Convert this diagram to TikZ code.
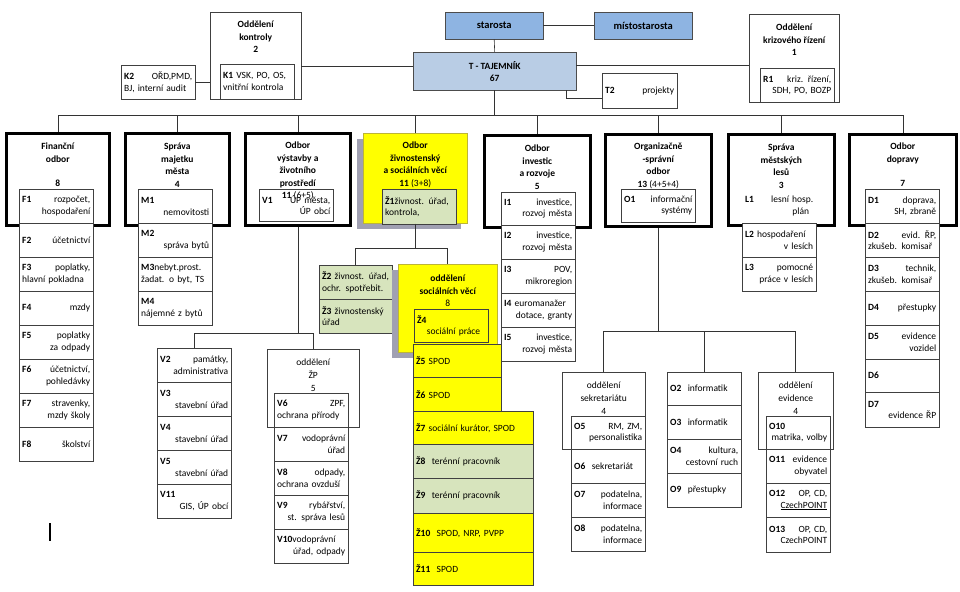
\documentclass[tikz,border=0pt]{standalone}
\usepackage{fontspec}
\setmainfont{Carlito}
\usetikzlibrary{shadows}

\definecolor{boss}{RGB}{142,180,226}
\definecolor{chief}{RGB}{185,205,229}
\definecolor{zyellow}{RGB}{255,255,0}
\definecolor{zgreen}{RGB}{215,228,189}
\definecolor{zshadow}{RGB}{160,160,178}

\newcommand\rside[1]{\makebox[\hsize][r]{#1}}

\tikzset{
  top/.style={draw=black!70, anchor=north west, align=center, inner sep=1pt},
  dept/.style={draw=black, line width=2.6pt, anchor=north west, inner sep=0pt},
  ydept/.style={dept, draw=yellow!70!black, line width=0.5pt, fill=zyellow,
    drop shadow={shadow xshift=-6pt, shadow yshift=-6pt, fill=zshadow, opacity=1}},
  grp/.style={draw=black!75, fill=white, anchor=north west, inner sep=0pt},
  unit/.style={draw=black!75, fill=white, anchor=north west, inner xsep=3pt,
    inner ysep=1pt, text width=68pt, minimum height=34pt, align=left},
  head/.style={anchor=north, align=center, inner sep=1pt,
    font=\fontsize{9.5}{12.5}\selectfont\bfseries},
  subhead/.style={anchor=north, align=center, inner sep=1pt,
    font=\fontsize{9.5}{13}\selectfont},
  link/.style={draw=black!80, line width=0.6pt},
}

\begin{document}
\fontsize{9.5}{11.5}\selectfont
\begin{tikzpicture}[x=1pt,y=-1pt]
    \useasboundingbox (0,0) rectangle (960,591);

    % Vedeni
    \node[top, fill=boss, minimum width=98pt, minimum height=27pt,
      font=\fontsize{10.5}{12}\selectfont\bfseries] (sta) at (445,12) {starosta};
    \node[top, fill=boss, minimum width=98pt, minimum height=27pt,
      font=\fontsize{10.5}{12}\selectfont\bfseries] (mis) at (594,12) {místostarosta};
    \node[top, fill=chief, minimum width=163pt, minimum height=38pt,
      font=\fontsize{9.5}{12}\selectfont\bfseries] (taj) at (413,52) {T - TAJEMNÍK\\67};
    \node[unit, text width=69pt, minimum height=35pt] (T2) at (602,73) {\textbf{T2}\hfill projekty\hspace*{6pt}};

    % Kontrola a krizove rizeni
    \node[grp, minimum width=91pt, minimum height=87pt] (kon) at (210,12) {};
    \node[unit, minimum height=35pt] (K1) at (220,64) {\textbf{K1} VSK, PO, OS,\\vnitřní kontrola};
    \node[unit] (K2) at (121,65) {\textbf{K2}\hfill OŘD,PMD,\\BJ, interní audit};
    \node[head] (konH) at ([yshift=-8pt]kon.north) {Oddělení\\kontroly\\2};
    \node[grp, minimum width=90pt, minimum height=88pt] (kri) at (749,14) {};
    \node[unit] (R1) at (760,68) {\textbf{R1}\hfill kriz. řízení,\\\rside{SDH, PO, BOZP}};
    \node[head] (kriH) at ([yshift=-9pt]kri.north) {Oddělení\\krizového řízení\\1};

    % Odbory
    \node[dept, minimum width=103pt, minimum height=92pt] (fin) at (5,132) {};
    \node[dept, minimum width=104pt, minimum height=92pt] (maj) at (124,132) {};
    \node[dept, minimum width=105pt, minimum height=92pt] (vys) at (244,132) {};
    \node[ydept, minimum width=104pt, minimum height=90pt] (ziv) at (363,133) {};
    \node[dept, minimum width=106pt, minimum height=92pt] (inv) at (483,134) {};
    \node[dept, minimum width=106pt, minimum height=92pt] (org) at (604,133) {};
    \node[dept, minimum width=106pt, minimum height=91pt] (les) at (727,133) {};
    \node[dept, minimum width=107pt, minimum height=91pt] (dop) at (848,133) {};

    % Financni odbor
    \node[unit] (F1) at (19,189) {\textbf{F1}\hfill rozpočet,\\\rside{hospodaření}};
    \node[unit] (F2) at (19,223) {\textbf{F2}\hfill účetnictví};
    \node[unit] (F3) at (19,257) {\textbf{F3}\hfill poplatky,\\hlavní pokladna};
    \node[unit] (F4) at (19,291) {\textbf{F4}\hfill mzdy};
    \node[unit] (F5) at (19,325) {\textbf{F5}\hfill poplatky\\\rside{za odpady}};
    \node[unit] (F6) at (19,359) {\textbf{F6}\hfill účetnictví,\\\rside{pohledávky}};
    \node[unit] (F7) at (19,393) {\textbf{F7}\hfill stravenky,\\\rside{mzdy školy}};
    \node[unit] (F8) at (19,427) {\textbf{F8}\hfill školství};

    % Sprava majetku mesta
    \node[unit] (M1) at (138,189) {\textbf{M1}\\\rside{nemovitosti}};
    \node[unit] (M2) at (138,223) {\textbf{M2}\\\rside{správa bytů}};
    \node[unit] (M3) at (138,257) {\textbf{M3}nebyt.prost.\\žadat. o byt, TS};
    \node[unit] (M4) at (138,291) {\textbf{M4}\\nájemné z bytů};

    % Odbor vystavby a ZP
    \node[unit, fill=none, minimum height=32pt] (V1) at (259,189) {\textbf{V1}\hfill ÚP města,\\\rside{ÚP obcí}};
    \node[unit] (V2) at (157,348) {\textbf{V2}\hfill památky,\\\rside{administrativa}};
    \node[unit] (V3) at (157,382) {\textbf{V3}\\\rside{stavební úřad}};
    \node[unit] (V4) at (157,416) {\textbf{V4}\\\rside{stavební úřad}};
    \node[unit] (V5) at (157,450) {\textbf{V5}\\\rside{stavební úřad}};
    \node[unit] (V11) at (157,484) {\textbf{V11}\\\rside{GIS, ÚP obcí}};
    \node[grp, minimum width=92pt, minimum height=78pt] (zp) at (267,349) {};
    \node[subhead] (zpH) at ([yshift=-9pt]zp.north) {oddělení\\ŽP\\5};
    \node[unit] (V6) at (274,393) {\textbf{V6}\hfill ZPF,\\ochrana přírody};
    \node[unit] (V7) at (274,427) {\textbf{V7}\hfill vodoprávní\\\rside{úřad}};
    \node[unit] (V8) at (274,461) {\textbf{V8}\hfill odpady,\\ochrana ovzduší};
    \node[unit] (V9) at (274,495) {\textbf{V9}\hfill rybářství,\\\rside{st. správa lesů}};
    \node[unit] (V10) at (274,529) {\textbf{V10}vodoprávní\\\rside{úřad, odpady}};

    % Odbor zivnostensky a socialnich veci
    \node[unit, fill=zgreen, minimum height=35pt] (Z1) at (382,189) {\textbf{Ž1}živnost. úřad,\\kontrola,};
    \node[unit, fill=zgreen, text width=67pt] (Z2) at (319,265) {\textbf{Ž2} živnost. úřad,\\ochr. spotřebit.};
    \node[unit, fill=zgreen, text width=67pt] (Z3) at (319,299) {\textbf{Ž3} živnostenský\\úřad};
    \node[ydept, minimum width=99pt, minimum height=88pt] (soc) at (398,264) {};
    \node[head] (socH) at ([yshift=-10pt]soc.north) {oddělení\\sociálních věcí\\\mdseries 8};
    \node[unit, fill=zyellow, minimum height=33pt] (Z4) at (414,309) {\textbf{Ž4}\\\rside{sociální práce\hspace*{5pt}}};
    \node[unit, fill=zyellow, text width=82pt, minimum height=33pt] (Z5) at (413,344) {\textbf{Ž5} SPOD};
    \node[unit, fill=zyellow, text width=82pt] (Z6) at (413,377) {\textbf{Ž6} SPOD};
    \node[unit, fill=zyellow, text width=114pt, minimum height=33pt] (Z7) at (413,411) {\textbf{Ž7} sociální kurátor, SPOD};
    \node[unit, fill=zgreen, text width=114pt] (Z8) at (413,444) {\textbf{Ž8}\ \ terénní pracovník};
    \node[unit, fill=zgreen, text width=114pt, minimum height=35pt] (Z9) at (413,478) {\textbf{Ž9}\ \ terénní pracovník};
    \node[unit, fill=zyellow, text width=114pt, minimum height=39pt] (Z10) at (413,513) {\textbf{Ž10}\ \ SPOD, NRP, PVPP};
    \node[unit, fill=zyellow, text width=114pt, minimum height=33pt] (Z11) at (413,552) {\textbf{Ž11}\ \ SPOD};

    % Odbor investic a rozvoje
    \node[unit, minimum height=33pt] (I1) at (501,192) {\textbf{I1}\hfill investice,\\\rside{rozvoj města}};
    \node[unit] (I2) at (501,225) {\textbf{I2}\hfill investice,\\\rside{rozvoj města}};
    \node[unit] (I3) at (501,259) {\textbf{I3}\hfill POV,\\\rside{mikroregion}};
    \node[unit] (I4) at (501,293) {\textbf{I4} euromanažer\\\rside{dotace, granty}};
    \node[unit] (I5) at (501,327) {\textbf{I5}\hfill investice,\\\rside{rozvoj města}};

    % Organizacne-spravni odbor
    \node[unit, minimum height=33pt] (O1) at (621,189) {\textbf{O1}\hfill informační\\\rside{systémy}};
    \node[grp, minimum width=83pt, minimum height=77pt] (sek) at (562,372) {};
    \node[subhead] (sekH) at ([yshift=-9pt]sek.north) {oddělení\\sekretariátu\\4};
    \node[unit, minimum height=33pt] (O5) at (571,416) {\textbf{O5}\hfill RM, ZM,\\\rside{personalistika}};
    \node[unit] (O6) at (571,449) {\textbf{O6}\ \ sekretariát};
    \node[unit] (O7) at (571,483) {\textbf{O7}\hfill podatelna,\\\rside{informace}};
    \node[unit] (O8) at (571,517) {\textbf{O8}\hfill podatelna,\\\rside{informace}};
    \node[unit, minimum height=33pt] (O2) at (667,372) {\textbf{O2}\ \ informatik};
    \node[unit] (O3) at (667,405) {\textbf{O3}\ \ informatik};
    \node[unit] (O4) at (667,439) {\textbf{O4}\hfill kultura,\\\rside{cestovní ruch}};
    \node[unit] (O9) at (667,473) {\textbf{O9}\ \ přestupky};
    \node[grp, minimum width=75pt, minimum height=77pt] (evi) at (758,372) {};
    \node[subhead] (eviH) at ([yshift=-9pt]evi.north) {oddělení\\evidence\\4};
    \node[unit, text width=58pt, minimum height=33pt] (O10) at (766,416) {\textbf{O10}\\\rside{matrika, volby}};
    \node[unit, text width=58pt] (O11) at (766,449) {\textbf{O11}\hfill evidence\\\rside{obyvatel}};
    \node[unit, text width=58pt] (O12) at (766,483) {\textbf{O12}\hfill OP, CD,\\\rside{\underline{CzechPOINT}}};
    \node[unit, text width=58pt, minimum height=35pt] (O13) at (766,517) {\textbf{O13}\hfill OP, CD,\\\rside{CzechPOINT}};

    % Sprava mestskych lesu
    \node[unit, draw=none, fill=none, minimum height=32pt] (L1) at (742,190) {\textbf{L1}\hfill lesní hosp.\\\rside{plán\hspace*{4pt}}};
    \node[unit] (L2) at (742,223) {\textbf{L2} hospodaření\\\rside{v lesích}};
    \node[unit] (L3) at (742,257) {\textbf{L3}\hfill pomocné\\\rside{práce v lesích}};

    % Odbor dopravy
    \node[unit] (D1) at (865,189) {\textbf{D1}\hfill doprava,\\\rside{SH, zbraně}};
    \node[unit] (D2) at (865,223) {\textbf{D2}\hfill evid. ŘP,\\zkušeb. komisař};
    \node[unit] (D3) at (865,257) {\textbf{D3}\hfill technik,\\zkušeb. komisař};
    \node[unit] (D4) at (865,291) {\textbf{D4}\hfill přestupky};
    \node[unit] (D5) at (865,325) {\textbf{D5}\hfill evidence\\\rside{vozidel}};
    \node[unit, minimum height=33pt] (D6) at (865,359) {\textbf{D6}};
    \node[unit, minimum height=35pt] (D7) at (865,392) {\textbf{D7}\\\rside{evidence ŘP}};

    % Nazvy odboru
    \node[head] (finH) at ([yshift=-10pt]fin.north) {Finanční\\odbor\\[12pt]8};
    \node[head] (majH) at ([yshift=-10pt]maj.north) {Správa\\majetku\\města\\4};
    \node[head] (vysH) at ([yshift=-9pt]vys.north) {Odbor\\výstavby a\\životního\\prostředí\\11 {\mdseries (6+5)}};
    \node[head] (zivH) at ([yshift=-8pt]ziv.north) {Odbor\\živnostenský\\a sociálních věcí\\11 {\mdseries (3+8)}};
    \node[head] (invH) at ([yshift=-10pt]inv.north) {Odbor\\investic\\a rozvoje\\5};
    \node[head] (orgH) at ([yshift=-9pt]org.north) {Organizačně\\-správní\\odbor\\13 {\mdseries (4+5+4)}};
    \node[head] (lesH) at ([yshift=-10pt]les.north) {Správa\\městských\\lesů\\3};
    \node[head] (dopH) at ([yshift=-9pt]dop.north) {Odbor\\dopravy\\[12pt]7};

    % Spoje
    \coordinate (bus) at (0,115);
    \coordinate (vbus) at (0,333);
    \coordinate (zbus) at (0,248);
    \coordinate (obus) at (0,331);
    \coordinate (tw) at ([yshift=5pt]taj.west);
    \coordinate (te) at ([yshift=6pt]taj.east);
    \draw[link] (sta.east) -- (mis.west);
    \draw[link] (sta.south) -- (taj.north);
    \draw[link] (tw) -- (tw -| kon.east);
    \draw[link] (te) -- (te -| kri.west);
    \draw[link] (K2.east) -- (K2.east -| kon.west);
    \draw[link] ([xshift=-10pt]taj.south east) |- ([yshift=-8pt]T2.west);
    \draw[link] (taj.south) -- (taj.south |- bus);
    \draw[link] (fin.north) -- (fin.north |- bus) -- (dop.north |- bus) -- (dop.north);
    \draw[link] (maj.north) -- (maj.north |- bus);
    \draw[link] (vys.north) -- (vys.north |- bus);
    \draw[link] (ziv.north) -- (ziv.north |- bus);
    \draw[link] (inv.north) -- (inv.north |- bus);
    \draw[link] (org.north) -- (org.north |- bus);
    \draw[link] (les.north) -- (les.north |- bus);
    \draw[link] (vys.south) -- (vys.south |- vbus);
    \draw[link] (V2.north) -- (V2.north |- vbus) -- (zp.north |- vbus) -- (zp.north);
    \draw[link] (ziv.south) -- (ziv.south |- zbus);
    \draw[link] (Z2.north) -- (Z2.north |- zbus) -- (soc.north |- zbus) -- (soc.north);
    \draw[link] (org.south) -- (org.south |- obus);
    \draw[link] (sek.north) -- (sek.north |- obus) -- (evi.north |- obus) -- (evi.north);
    \draw[link] (O2.north) -- (O2.north |- obus);

    % Kurzor
    \coordinate (caret) at (50,523);
    \draw[line width=1.2pt] (caret) -- ++(0,18);
\end{tikzpicture}
\end{document}
